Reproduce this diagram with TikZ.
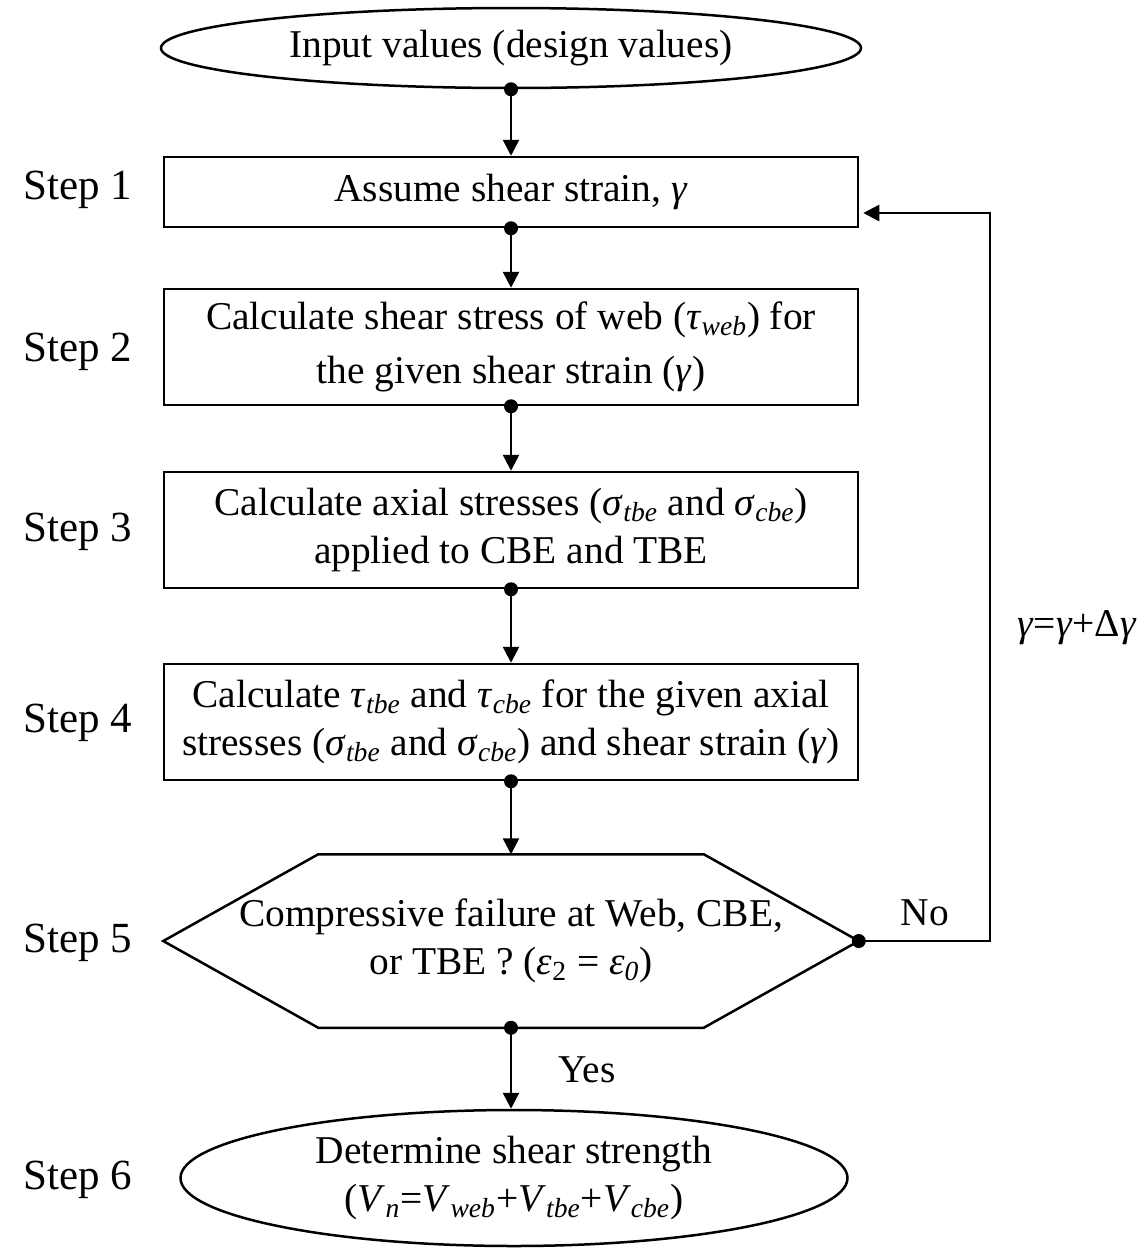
\documentclass[tikz,border=0pt]{standalone}
\usepackage{fontspec}
\setmainfont{Liberation Serif}
\usetikzlibrary{shapes.geometric,arrows.meta,calc}
\begin{document}
\begin{tikzpicture}[x=0.5pt,y=-0.5pt, line width=1.25pt,
  every node/.style={font=\fontsize{19.7}{24}\selectfont},
  proc/.style={draw, rectangle, minimum width=347pt, minimum height=58pt, inner sep=0pt, align=center},
  term/.style={draw, ellipse, inner sep=0pt, align=center},
  steplbl/.style={font=\fontsize{21.5}{26}\selectfont},
  flow/.style={-{Triangle[length=8pt,width=8pt]}},
  ]
\useasboundingbox (0,0) rectangle (1140,1249);
\node[term, minimum width=350pt, minimum height=40pt] (in) at (511,48) {Input values (design values)};
\node[proc, minimum height=35pt] (s1) at (511,192) {Assume shear strain, \textit{γ}};
\node[proc] (s2) at (511,347) {Calculate shear stress of web (\textit{τ}\textsubscript{\textit{web}}) for\\[3pt] the given shear strain (\textit{γ})};
\node[proc] (s3) at (511,530) {Calculate axial stresses (\textit{σ}\textsubscript{\textit{tbe}} and \textit{σ}\textsubscript{\textit{cbe}})\\ applied to CBE and TBE};
\node[proc] (s4) at (511,722) {Calculate \textit{τ}\textsubscript{\textit{tbe}} and \textit{τ}\textsubscript{\textit{cbe}} for the given axial\\ stresses (\textit{σ}\textsubscript{\textit{tbe}} and \textit{σ}\textsubscript{\textit{cbe}}) and shear strain (\textit{γ})};
\node[align=center, minimum width=346.5pt, minimum height=85.5pt, inner sep=0pt] (s5) at (511,941) {Compressive failure at Web, CBE,\\ or TBE ? (\textit{ε}\textsubscript{2} = \textit{ε}\textsubscript{\textit{0}})};
\draw (s5.west) -- ($(s5.north west)+(155,0)$) -- ($(s5.north east)+(-155,0)$) -- (s5.east) -- ($(s5.south east)+(-155,0)$) -- ($(s5.south west)+(155,0)$) -- cycle;
\node[term, minimum width=333.5pt, minimum height=68pt] (s6) at (514,1178) {Determine shear strength\\ (\textit{V}\textsubscript{\textit{n}}=\textit{V}\textsubscript{\textit{web}}+\textit{V}\textsubscript{\textit{tbe}}+\textit{V}\textsubscript{\textit{cbe}})};

\node[steplbl] (l1) at (78,190) {Step 1};
\node[steplbl] (l2) at (78,352) {Step 2};
\node[steplbl] (l3) at (78,532) {Step 3};
\node[steplbl] (l4) at (78,723) {Step 4};
\node[steplbl] (l5) at (78,943) {Step 5};
\node[steplbl] (l6) at (78,1180) {Step 6};

\draw[flow] (in.south) -- (s1.north);
\draw[flow] (s1.south) -- (s2.north);
\draw[flow] (s2.south) -- (s3.north);
\draw[flow] (s3.south) -- (s4.north);
\draw[flow] (s4.south) -- (s5.north);
\draw[flow] (s5.south) -- (s5.south |- s6.north);
\coordinate (lp) at ($(s1.east)+(4,21)$);
\coordinate (rc) at (990,0);
\draw[flow] (s5.east) -- (s5.east -| rc) |- (lp);
\foreach \p in {in.south,s1.south,s2.south,s3.south,s4.south,s5.south,s5.east}
  \fill (\p) circle[radius=7];

\node (no) at (925,913) {No};
\node (yes) at (587,1070) {Yes};
\node (inc) at (1077,628) {\textit{γ}=\textit{γ}+Δ\textit{γ}};
\end{tikzpicture}
\end{document}
